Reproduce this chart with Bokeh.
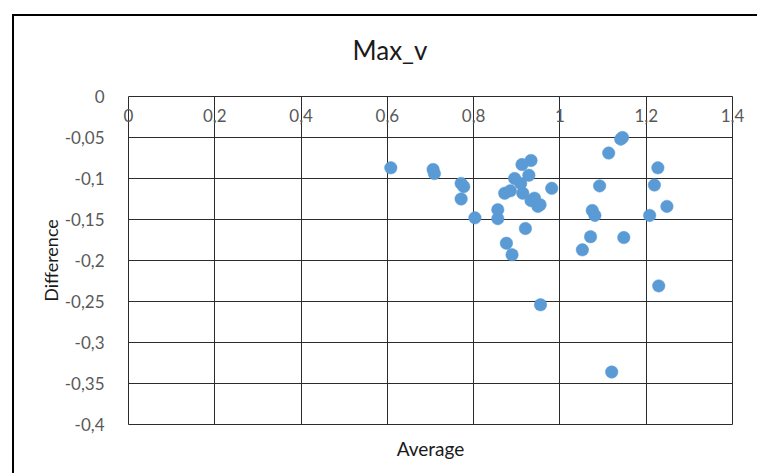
from bokeh.plotting import figure
from bokeh.models import Range1d, FixedTicker, LinearAxis
from bokeh.embed import file_html
from bokeh.resources import INLINE

# ---- data ----
avg = [0.608, 0.706, 0.709, 0.771, 0.777, 0.771, 0.803, 0.856, 0.856, 0.876,
       0.889, 0.920, 0.872, 0.885, 0.895, 0.912, 0.933, 0.928, 0.909, 0.914,
       0.941, 0.933, 0.949, 0.954, 0.981, 1.141, 1.145, 1.113, 1.227, 1.219,
       1.248, 1.208, 1.092, 1.075, 1.081, 1.071, 1.148, 1.052, 0.955, 1.120,
       1.229]
diff = [-0.087, -0.089, -0.094, -0.106, -0.110, -0.125, -0.148, -0.138, -0.149, -0.179,
        -0.193, -0.161, -0.118, -0.115, -0.100, -0.083, -0.078, -0.096, -0.106, -0.118,
        -0.124, -0.127, -0.134, -0.132, -0.112, -0.052, -0.050, -0.069, -0.087, -0.108,
        -0.134, -0.145, -0.109, -0.139, -0.145, -0.171, -0.172, -0.187, -0.254, -0.336,
        -0.231]

x_ticks = [0, 0.2, 0.4, 0.6, 0.8, 1.0, 1.2, 1.4]
x_tick_labels = ["0", "0,2", "0,4", "0,6", "0,8", "1", "1,2", "1,4"]
y_ticks = [0, -0.05, -0.1, -0.15, -0.2, -0.25, -0.3, -0.35, -0.4]
y_tick_labels = ["0", "-0,05", "-0,1", "-0,15", "-0,2", "-0,25", "-0,3", "-0,35", "-0,4"]

FONT = "Lato"
GRID = "#2b2b2b"
LABEL_GRAY = "#595959"

p = figure(width=757, height=473, output_backend="svg", toolbar_location=None,
           x_range=Range1d(0, 1.4), y_range=Range1d(-0.4, 0),
           x_axis_location="above", title="Max_v")
# chart-area border (top and left edges visible, as in the reference)
p.border_fill_color = None
p.background_fill_color = "#ffffff"
p.styles = {"background": "linear-gradient(#000, #000) 12px 14px / 100% 2px no-repeat, "
                          "linear-gradient(#000, #000) 12px 14px / 2px 100% no-repeat, #ffffff"}

p.min_border_left = 128
p.min_border_top = 96
p.min_border_right = 25
p.min_border_bottom = 49

p.title.text_font = FONT
p.title.text_font_size = "26px"
p.title.text_font_style = "normal"
p.title.text_color = "#1a1a1a"
p.title.align = "left"
p.title.offset = 224
p.title.standoff = 61

# top x-axis: labels inside the plot, just under the y=0 line
xa = p.xaxis[0]
xa.ticker = FixedTicker(ticks=x_ticks)
xa.major_label_overrides = {t: l for t, l in zip(x_ticks, x_tick_labels)}
xa.axis_line_color = None
xa.major_tick_line_color = None
xa.minor_tick_line_color = None
xa.major_label_standoff = -31
xa.major_label_text_font = FONT
xa.major_label_text_font_size = "17px"
xa.major_label_text_color = LABEL_GRAY

# bottom axis only for the title "Average"
xb = LinearAxis(ticker=FixedTicker(ticks=[]), axis_label="Average")
xb.axis_line_color = None
xb.major_tick_line_color = None
xb.minor_tick_line_color = None
xb.axis_label_standoff = 12
xb.axis_label_text_font = FONT
xb.axis_label_text_font_size = "19px"
xb.axis_label_text_font_style = "normal"
xb.axis_label_text_color = "#1a1a1a"
p.add_layout(xb, "below")

ya = p.yaxis[0]
ya.ticker = FixedTicker(ticks=y_ticks)
ya.major_label_overrides = {t: l for t, l in zip(y_ticks, y_tick_labels)}
ya.axis_line_color = None
ya.major_tick_line_color = None
ya.minor_tick_line_color = None
ya.major_label_standoff = 18
ya.major_label_text_font = FONT
ya.major_label_text_font_size = "17px"
ya.major_label_text_color = LABEL_GRAY
ya.axis_label = "Difference"
ya.axis_label_standoff = 0
ya.axis_label_text_font = FONT
ya.axis_label_text_font_size = "18px"
ya.axis_label_text_font_style = "normal"
ya.axis_label_text_color = "#1a1a1a"

p.xgrid.grid_line_color = GRID
p.ygrid.grid_line_color = GRID
p.xgrid.grid_line_width = 1
p.ygrid.grid_line_width = 1
p.outline_line_color = GRID
p.outline_line_width = 1

p.scatter(avg, diff, marker="circle", size=12.5, fill_color="#5B9BD5",
          line_color="#5B9BD5", line_width=0.5)

open("out.html", "w").write(file_html(p, INLINE))
